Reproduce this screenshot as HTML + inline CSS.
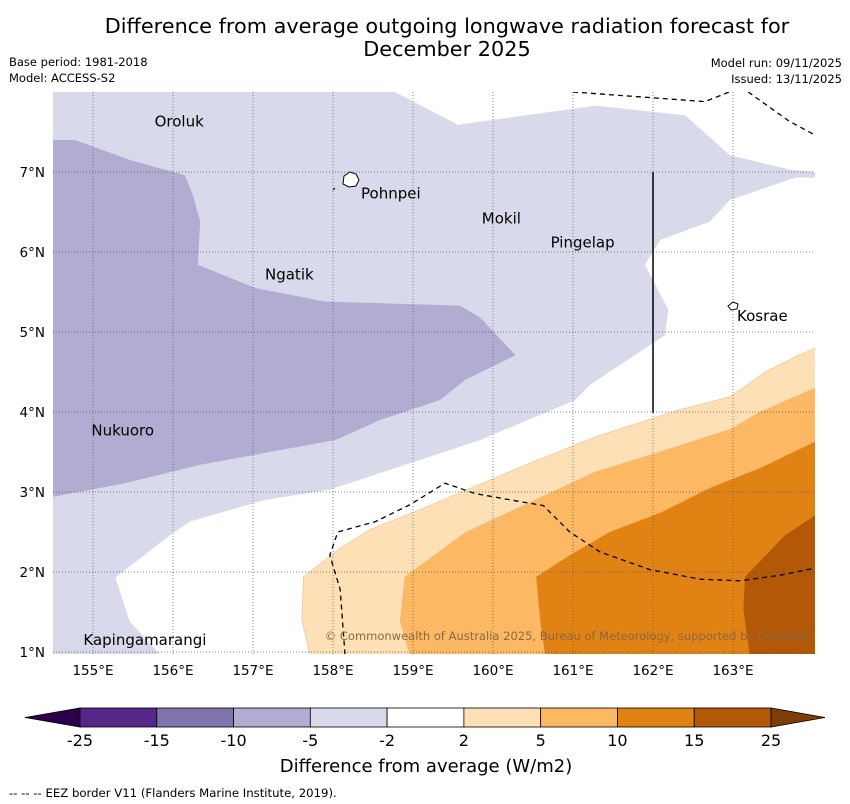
<!DOCTYPE html>
<html><head><meta charset="utf-8"><style>
body{margin:0;background:#fff;}
svg{display:block;font-family:"DejaVu Sans","Liberation Sans",sans-serif;}
</style></head><body>
<svg id="s" width="850" height="804" viewBox="0 0 850 804" xmlns="http://www.w3.org/2000/svg">
<defs><clipPath id="mc"><rect x="53" y="92" width="762" height="562"/></clipPath></defs>
<text x="447" y="33" font-size="20.8" text-anchor="middle">Difference from average outgoing longwave radiation forecast for</text>
<text x="447" y="56" font-size="20.8" text-anchor="middle">December 2025</text>
<text x="9" y="66" font-size="11.5">Base period: 1981-2018</text>
<text x="9" y="82" font-size="11.5">Model: ACCESS-S2</text>
<text x="842" y="67" font-size="11.5" text-anchor="end">Model run: 09/11/2025</text>
<text x="842" y="83" font-size="11.5" text-anchor="end">Issued: 13/11/2025</text>
<g id="map" clip-path="url(#mc)"></g>
<g id="over"></g>
<g id="cb"></g>
<text x="426" y="772" font-size="18" text-anchor="middle">Difference from average (W/m2)</text>
<text x="9" y="797" font-size="11.7">--  --  -- EEZ border V11 (Flanders Marine Institute, 2019).</text>
</svg>
<script>
const lonTicks=[155,156,157,158,159,160,161,162,163];
const latTicks=[1,2,3,4,5,6,7];
const cbLevels=["-25","-15","-10","-5","-2","2","5","10","15","25"];
const cbColors=["#542788","#8073ac","#b2abd2","#d8daeb","#ffffff","#fee0b6","#fdb863","#e08214","#b35806"];
const light=[[154.5,8],[158.775,8],[159.56,7.59],[161.28,7.83],[162.4,7.71],[162.96,7.21],[163.71,7.03],[164.03,7.0],[164.03,6.93],[163.78,6.93],[162.96,6.65],[162.71,6.38],[162.09,6.15],[161.9,5.84],[162.19,5.28],[162.15,4.96],[161.21,4.34],[161.03,4.15],[159.84,3.65],[157.96,3.03],[157.15,2.9],[156.21,2.63],[155.96,2.46],[155.28,1.93],[155.46,1.38],[155.84,0.97],[154.5,0.97]];
const medium=[[154.5,7.4],[154.78,7.4],[155.46,7.15],[156.15,6.96],[156.25,6.71],[156.34,6.38],[156.31,5.84],[157.03,5.55],[157.9,5.38],[159.59,5.33],[159.84,5.18],[160.28,4.71],[159.65,4.4],[159.34,4.15],[158.59,3.9],[158.03,3.65],[157.21,3.5],[156.34,3.34],[155.4,3.11],[154.5,2.94]];
const o1=[[157.61,1.4],[157.63,1.94],[158.09,2.3],[158.46,2.53],[159.09,2.78],[160.34,3.31],[161.28,3.69],[162.34,4.03],[162.96,4.19],[163.4,4.5],[163.78,4.69],[164.03,4.8],[164.03,0.97],[157.71,0.97]];
const o2=[[158.84,1.38],[158.9,1.94],[159.65,2.49],[160.4,2.84],[161.28,3.25],[161.96,3.46],[162.96,3.78],[163.34,4.0],[164.03,4.3],[164.03,0.97],[158.96,0.97]];
const o3=[[160.59,1.4],[160.54,1.94],[160.96,2.21],[161.46,2.5],[162.09,2.74],[162.71,3.05],[163.34,3.3],[164.03,3.63],[164.03,0.97],[160.65,0.97]];
const o4=[[163.13,1.53],[163.15,1.94],[163.65,2.46],[164.03,2.71],[164.03,0.97],[163.21,0.97]];
const eez1=[[161.0,8.0],[162.65,7.88],[163.03,8.03]];
const eez2=[[163.19,8],[163.71,7.63],[164.03,7.46]];
const eez3=[[158.15,0.97],[158.09,1.78],[157.96,2.21],[158.06,2.5],[158.53,2.63],[158.96,2.84],[159.4,3.11],[159.78,2.98],[160.34,2.88],[160.63,2.83],[160.96,2.5],[161.34,2.25],[161.96,2.03],[162.59,1.91],[163.09,1.89],[163.59,1.96],[164.03,2.05]];
const places=["Oroluk","Pohnpei","Mokil","Pingelap","Ngatik","Kosrae","Nukuoro","Kapingamarangi"];
const placeLon=[155.77,158.35,159.86,160.72,157.15,163.05,154.98,154.88];
const placeLat=[7.63,6.73,6.42,6.12,5.72,5.2,3.77,1.15];

const NS="http://www.w3.org/2000/svg";
const X=lon=>53+(lon-154.5)*80;
const Y=lat=>92+(8-lat)*80;
function mk(tag,attrs,parent){const e=document.createElementNS(NS,tag);for(const k in attrs)e.setAttribute(k,attrs[k]);parent.appendChild(e);return e;}
const map=document.getElementById('map'),over=document.getElementById('over'),cb=document.getElementById('cb');
const pts=a=>a.map(p=>X(p[0]).toFixed(1)+','+Y(p[1]).toFixed(1)).join(' ');
const fills=[[light,"#d8daeb","contour-minus5-minus2"],[medium,"#b2abd2","contour-minus10-minus5"],[o1,"#fee0b6","contour-2-5"],[o2,"#fdb863","contour-5-10"],[o3,"#e08214","contour-10-15"],[o4,"#b35806","contour-15-25"]];
fills.forEach(f=>{
 const p=mk('polygon',{points:pts(f[0]),fill:f[1],stroke:f[1]=="#fee0b6"||f[1]=="#fdb863"?"#f0b070":"none","stroke-width":0.5},map);
 
 
});
lonTicks.forEach(l=>{
 const g=mk('line',{x1:X(l),x2:X(l),y1:92,y2:654,stroke:"#555","stroke-width":0.7,"stroke-dasharray":"1,2"},map);
 
 
 const t=mk('text',{x:X(l),y:675,"font-size":13.5,"text-anchor":"middle"},over);t.textContent=l+"°E";
 
 
});
latTicks.forEach(l=>{
 const g=mk('line',{x1:53,x2:815,y1:Y(l),y2:Y(l),stroke:"#555","stroke-width":0.7,"stroke-dasharray":"1,2"},map);
 
 
 const t=mk('text',{x:45,y:Y(l)+5,"font-size":13.5,"text-anchor":"end"},over);t.textContent=l+"°N";
 
 
});
[eez1,eez2,eez3].forEach(a=>{
 const p=mk('polyline',{points:pts(a),fill:"none",stroke:"#000","stroke-width":1.3,"stroke-dasharray":"5,4"},map);
 
 
});
const vl=mk('line',{x1:X(162),x2:X(162),y1:Y(7),y2:Y(3.99),stroke:"#000","stroke-width":1.5},map);


const pi=mk('path',{d:"M344,176 l6,-4 l6,2 l3,6 l-3,6 l-7,1 l-6,-3 z M333,190 l2,-2",fill:"#fff",stroke:"#000","stroke-width":1},map);


const ki=mk('path',{d:"M728,306 l5,-4 l5,2 l-1,5 l-6,1 z",fill:"#fff",stroke:"#000","stroke-width":1},map);


places.forEach((n,i)=>{
 const t=mk('text',{x:X(placeLon[i]),y:Y(placeLat[i])+5,"font-size":15},map);t.textContent=n;
 
 
});
const cp=mk('text',{x:809,y:640,"font-size":11.5,"text-anchor":"end",fill:"#8a6a40"},map);
cp.textContent="© Commonwealth of Australia 2025, Bureau of Meteorology, supported by COSPPac";


const cbx0=80,cbw=691/cbColors.length,cby=708,cbh=19;
const le=mk('polygon',{points:`${cbx0},${cby} ${cbx0},${cby+cbh} 25,${cby+cbh/2}`,fill:"#2d004b",stroke:"#000","stroke-width":0.8},cb);


cbColors.forEach((c,i)=>{
 const r=mk('rect',{x:cbx0+i*cbw,y:cby,width:cbw,height:cbh,fill:c,stroke:"#000","stroke-width":0.8},cb);
 
 
});
const re=mk('polygon',{points:`${cbx0+691},${cby} ${cbx0+691},${cby+cbh} 825,${cby+cbh/2}`,fill:"#7f3b08",stroke:"#000","stroke-width":0.8},cb);


cbLevels.forEach((l,i)=>{
 const t=mk('text',{x:cbx0+i*cbw,y:746,"font-size":16,"text-anchor":"middle"},cb);t.textContent=l;
 
 
});
</script>
</body></html>
